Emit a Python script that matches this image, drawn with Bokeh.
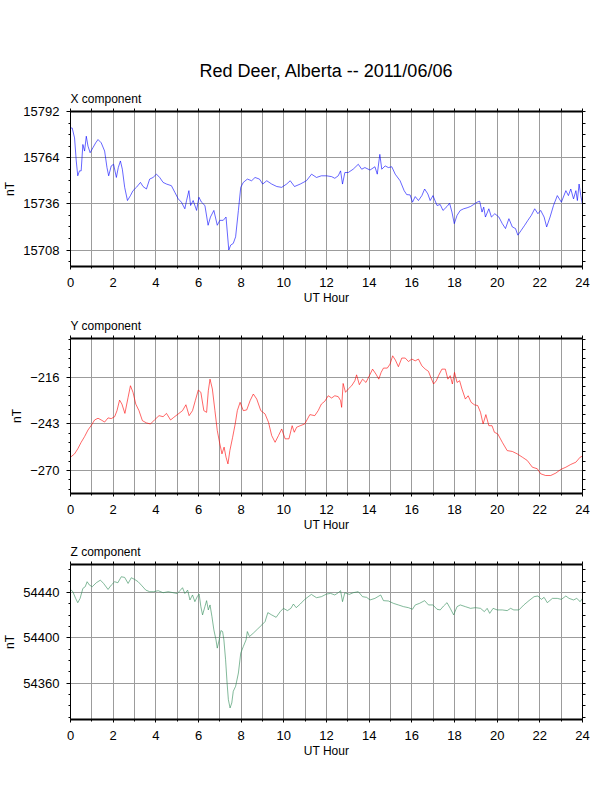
import numpy as np
from bokeh.plotting import figure
from bokeh.models import LinearAxis, SingleIntervalTicker, FixedTicker, Range1d, Title, Grid, ColumnDataSource
from bokeh.layouts import column
from bokeh.embed import file_html
from bokeh.resources import INLINE

FONT = "Liberation Sans"
MAIN_TITLE = "Red Deer, Alberta -- 2011/06/06"
X_LABEL = "UT Hour"
Y_LABEL = "nT"

# ---- X component (nT) ----
x_hours = [0.00, 0.08, 0.19, 0.27, 0.34, 0.42, 0.50, 0.58, 0.66, 0.74, 0.82, 0.92, 1.05, 1.18, 1.29,
           1.44, 1.60, 1.71, 1.79, 1.91, 2.02, 2.15, 2.24, 2.34, 2.43, 2.54, 2.67, 2.81, 2.93, 3.09,
           3.28, 3.40, 3.56, 3.71, 3.87, 4.03, 4.18, 4.34, 4.50, 4.73, 4.89, 5.05, 5.20, 5.36, 5.44,
           5.55, 5.63, 5.75, 5.91, 6.02, 6.14, 6.30, 6.45, 6.56, 6.72, 6.88, 7.00, 7.16, 7.29, 7.42,
           7.51, 7.63, 7.74, 7.87, 7.98, 8.10, 8.29, 8.49, 8.65, 8.86, 9.01, 9.20, 9.43, 9.67, 9.90,
           10.13, 10.30, 10.50, 10.77, 11.06, 11.30, 11.53, 11.76, 12.00, 12.24, 12.39, 12.55, 12.66,
           12.75, 12.86, 13.02, 13.25, 13.49, 13.65, 13.80, 14.04, 14.27, 14.38, 14.50, 14.59, 14.75,
           14.90, 15.06, 15.22, 15.45, 15.64, 15.76, 15.92, 16.03, 16.16, 16.31, 16.47, 16.60, 16.75,
           16.86, 16.99, 17.18, 17.33, 17.46, 17.65, 17.77, 17.88, 17.99, 18.12, 18.27, 18.43, 18.59,
           18.75, 18.90, 19.06, 19.18, 19.29, 19.37, 19.45, 19.61, 19.73, 19.89, 20.08, 20.24, 20.39,
           20.55, 20.71, 20.86, 20.97, 21.13, 21.29, 21.44, 21.60, 21.76, 21.91, 22.04, 22.20, 22.32,
           22.48, 22.64, 22.82, 23.01, 23.22, 23.34, 23.45, 23.58, 23.69, 23.76, 23.84, 23.92, 24.00]
x_values = [15782, 15782, 15776, 15762, 15753, 15756, 15756, 15772, 15768, 15777, 15771, 15767, 15770, 15773, 15775,
            15773, 15768, 15758, 15753, 15759, 15760, 15752, 15758, 15762, 15757, 15746, 15738, 15741, 15744, 15746,
            15749, 15746.5, 15745, 15751, 15752, 15754, 15752, 15749, 15748, 15747, 15743, 15739, 15737, 15733, 15738,
            15744, 15735, 15738, 15732, 15740, 15737, 15735, 15723, 15728, 15732, 15723, 15726, 15726, 15728, 15708,
            15711, 15712, 15716, 15732, 15746, 15749, 15751, 15750, 15752, 15751, 15748, 15750, 15748, 15746.5, 15746,
            15748, 15750, 15746.5, 15748, 15750, 15754, 15752, 15753, 15753, 15752.5, 15751.5, 15753, 15756,
            15748, 15755, 15755, 15757, 15760, 15757, 15758, 15756.5, 15758.5, 15754, 15766, 15757, 15759,
            15758, 15758.5, 15754, 15750, 15744, 15741.6, 15741.4, 15737, 15740.4, 15738, 15741, 15745, 15742,
            15738, 15741, 15735, 15735.6, 15732, 15734.4, 15736.4, 15731, 15724, 15729, 15732, 15733, 15733.6,
            15734.4, 15735.6, 15737, 15737.6, 15731, 15734, 15728, 15733, 15728, 15730, 15728, 15724, 15721,
            15727, 15722, 15721, 15717, 15720, 15723, 15726, 15729, 15733, 15730, 15732, 15728, 15722,
            15728, 15735, 15741, 15737, 15744, 15741, 15745, 15739, 15744, 15738, 15748, 15741, 15735.6]

# ---- Y component (nT) ----
y_hours = [0.00, 0.19, 0.34, 0.50, 0.66, 0.82, 0.97, 1.13, 1.29, 1.44, 1.60, 1.76, 1.91, 2.07, 2.18,
           2.30, 2.41, 2.55, 2.70, 2.81, 2.93, 3.06, 3.21, 3.37, 3.56, 3.75, 3.95, 4.15, 4.34, 4.50,
           4.69, 4.84, 5.05, 5.25, 5.41, 5.56, 5.72, 5.85, 5.99, 6.11, 6.25, 6.38, 6.46, 6.54, 6.65,
           6.77, 6.88, 7.00, 7.10, 7.20, 7.29, 7.38, 7.47, 7.60, 7.72, 7.82, 7.95, 8.10, 8.26, 8.42,
           8.57, 8.73, 8.92, 9.12, 9.28, 9.43, 9.59, 9.75, 9.90, 10.06, 10.24, 10.39, 10.49, 10.60,
           10.77, 10.98, 11.22, 11.45, 11.61, 11.76, 11.92, 12.08, 12.24, 12.39, 12.55, 12.66, 12.71,
           12.78, 12.89, 13.02, 13.18, 13.33, 13.41, 13.54, 13.69, 13.85, 14.01, 14.16, 14.32, 14.45,
           14.56, 14.67, 14.85, 14.98, 15.10, 15.23, 15.37, 15.53, 15.69, 15.84, 16.00, 16.16, 16.31,
           16.47, 16.63, 16.78, 16.89, 17.02, 17.15, 17.25, 17.41, 17.57, 17.69, 17.80, 17.90, 18.00,
           18.12, 18.24, 18.35, 18.51, 18.64, 18.78, 18.93, 19.09, 19.22, 19.34, 19.47, 19.61, 19.76,
           19.87, 20.03, 20.24, 20.47, 20.71, 20.94, 21.18, 21.41, 21.65, 21.88, 22.04, 22.27, 22.51,
           22.75, 22.98, 23.22, 23.45, 23.69, 23.89, 24.00]
y_values = [-262.3, -260.4, -257.5, -253.7, -250.4, -246.6, -244.0, -240.8, -239.8, -240.8, -242.0, -239.6, -240.0, -238.9, -235.4,
            -229.3, -231.6, -237.0, -227.7, -221.0, -224.8, -231.6, -235.4, -241.2, -242.5, -243.1, -240.6, -238.3, -238.9, -237.0,
            -240.8, -239.3, -237.3, -235.4, -232.0, -238.3, -235.4, -229.6, -223.5, -224.8, -235.4, -236.4, -223.9, -217.2, -222.9,
            -235.4, -246.9, -254.6, -260.4, -256.5, -262.3, -266.2, -258.5, -250.8, -243.1, -235.4, -230.6, -235.4, -235.0, -229.6,
            -225.8, -228.7, -235.4, -237.3, -242.1, -249.8, -253.7, -249.8, -246.0, -251.7, -251.7, -244.1, -247.9, -245.0,
            -244.1, -243.1, -237.7, -238.3, -235.4, -231.6, -230.0, -226.8, -228.1, -226.8, -227.3, -229.6, -233.5,
            -219.7, -224.8, -222.9, -221.0, -218.1, -214.7, -220.4, -217.2, -219.1, -215.2, -211.4, -214.3, -217.2,
            -213.3, -210.8, -210.8, -208.5, -203.7, -206.2, -210.0, -205.0, -205.0, -207.0, -205.6, -206.6, -205.6,
            -209.5, -211.4, -212.7, -216.2, -220.0, -218.1, -215.2, -211.4, -211.4, -217.2, -215.2, -220.0, -213.3,
            -219.1, -218.1, -222.9, -228.7, -226.8, -230.6, -232.0, -232.5, -236.4, -243.1, -237.7, -244.1, -244.1,
            -247.9, -248.9, -253.7, -258.5, -259.0, -260.4, -262.3, -264.2, -268.1, -269.0, -271.9, -272.9, -272.9,
            -271.5, -269.4, -268.1, -266.5, -265.2, -262.3, -261.7]

# ---- Z component (nT) ----
z_hours = [0.00, 0.11, 0.24, 0.34, 0.45, 0.58, 0.69, 0.78, 0.89, 1.02, 1.21, 1.40, 1.55, 1.76, 1.91,
           2.07, 2.22, 2.38, 2.54, 2.70, 2.85, 3.01, 3.17, 3.32, 3.53, 3.71, 3.90, 4.11, 4.34, 4.58,
           4.81, 5.00, 5.13, 5.25, 5.36, 5.49, 5.60, 5.72, 5.83, 5.94, 6.03, 6.11, 6.19, 6.30, 6.38,
           6.46, 6.54, 6.63, 6.72, 6.82, 6.88, 6.97, 7.05, 7.13, 7.19, 7.27, 7.34, 7.40, 7.48, 7.56,
           7.63, 7.74, 7.87, 7.98, 8.10, 8.23, 8.29, 8.39, 8.57, 8.76, 8.97, 9.12, 9.25, 9.43, 9.64,
           9.83, 9.98, 10.17, 10.33, 10.45, 10.58, 10.77, 10.98, 11.29, 11.53, 11.76, 12.00, 12.19,
           12.39, 12.55, 12.66, 12.75, 12.86, 13.07, 13.25, 13.49, 13.69, 13.88, 14.04, 14.27, 14.54,
           14.67, 14.90, 15.14, 15.37, 15.61, 15.84, 16.03, 16.16, 16.36, 16.60, 16.78, 16.99, 17.18,
           17.33, 17.49, 17.65, 17.80, 17.96, 18.12, 18.27, 18.51, 18.75, 18.98, 19.22, 19.40, 19.53,
           19.65, 19.81, 20.00, 20.24, 20.47, 20.63, 20.78, 21.02, 21.25, 21.49, 21.73, 21.91, 22.07,
           22.20, 22.35, 22.59, 22.82, 23.01, 23.22, 23.37, 23.58, 23.73, 23.89, 24.00]
z_values = [54442.6, 54440.6, 54434.7, 54430.9, 54434.7, 54443.5, 54445.0, 54449.4, 54446.4, 54445.0, 54448.5, 54450.8, 54447.9, 54442.6, 54446.4,
            54449.4, 54448.5, 54453.8, 54453.2, 54447.9, 54452.9, 54451.4, 54449.4, 54446.4, 54442.0, 54440.6, 54440.6, 54441.5, 54439.7, 54440.6,
            54439.7, 54439.0, 54441.5, 54444.1, 54439.0, 54442.0, 54433.3, 54437.7, 54431.8, 54436.2, 54438.5, 54427.4, 54420.1, 54427.4, 54432.7,
            54424.5, 54428.9, 54418.6, 54406.9, 54398.1, 54390.8, 54398.1, 54406.3, 54405.4, 54398.1, 54380.5, 54360.0, 54345.3, 54338.0, 54342.4,
            54352.7, 54357.1, 54368.8, 54386.4, 54392.2, 54398.1, 54405.4, 54401.0, 54404.0, 54407.5, 54411.3, 54414.2, 54422.1, 54420.1, 54418.0,
            54423.0, 54425.9, 54423.9, 54425.9, 54429.7, 54426.5, 54429.7, 54433.8, 54438.2, 54435.3, 54436.2, 54438.5, 54439.1,
            54437.7, 54439.7, 54441.5, 54431.8, 54439.7, 54438.2, 54439.7, 54440.6, 54436.2, 54435.6, 54433.3, 54434.7, 54437.7,
            54432.7, 54432.4, 54430.3, 54428.9, 54427.4, 54426.5, 54425.1, 54428.9, 54430.3, 54432.7, 54428.9, 54428.9, 54425.1,
            54424.5, 54428.0, 54430.9, 54425.9, 54420.1, 54427.4, 54428.9, 54427.4, 54425.9, 54426.5, 54425.9, 54423.0, 54425.9,
            54421.5, 54425.9, 54424.5, 54424.5, 54423.9, 54425.9, 54424.5, 54424.5, 54428.9, 54432.7, 54436.2, 54436.8, 54433.8,
            54435.6, 54430.9, 54434.7, 54434.7, 54433.8, 54436.8, 54434.7, 54433.3, 54434.7, 54431.8, 54434.7]

GRID = "#9c9c9c"


def make_panel(hours, values, color, ylo, yhi, yint, yminor, comp, top_border, bottom_border, main=None):
    p = figure(frame_width=512, frame_height=155,
               x_range=Range1d(0, 24), y_range=Range1d(ylo, yhi),
               x_axis_type=None, y_axis_type=None,
               output_backend="svg", toolbar_location=None,
               min_border_left=66, min_border_right=18,
               min_border_top=top_border, min_border_bottom=bottom_border,
               background_fill_color="white", border_fill_color="white")
    p.outline_line_color = None

    # grids
    p.add_layout(Grid(dimension=0, ticker=SingleIntervalTicker(interval=1, num_minor_ticks=0),
                      grid_line_color=GRID, grid_line_width=1))
    p.add_layout(Grid(dimension=1, ticker=SingleIntervalTicker(interval=yint, num_minor_ticks=0),
                      grid_line_color=GRID, grid_line_width=1))

    src = ColumnDataSource(data=dict(t=hours, v=values))
    p.line("t", "v", source=src, line_color=color, line_width=0.75, line_alpha=0.8)

    # bottom axis
    xb = LinearAxis(ticker=SingleIntervalTicker(interval=2, num_minor_ticks=2), axis_label=X_LABEL)
    xb.major_tick_in = 0
    xb.major_tick_out = 3
    xb.minor_tick_in = 0
    xb.minor_tick_out = 2
    xb.axis_line_width = 2
    xb.major_label_standoff = 8
    xb.axis_label_standoff = 1
    xb.major_label_text_font = FONT
    xb.major_label_text_font_size = "13px"
    xb.major_label_text_color = "black"
    xb.axis_label_text_font = FONT
    xb.axis_label_text_font_size = "12px"
    xb.axis_label_text_font_style = "normal"
    xb.axis_label_text_color = "black"
    p.add_layout(xb, "below")

    # left axis
    yl = LinearAxis(ticker=SingleIntervalTicker(interval=yint, num_minor_ticks=yminor), axis_label=Y_LABEL)
    yl.major_tick_in = 0
    yl.major_tick_out = 4
    yl.minor_tick_in = 0
    yl.minor_tick_out = 2
    yl.axis_line_width = 1
    yl.major_label_standoff = 7
    yl.axis_label_standoff = 3
    yl.major_label_text_font = FONT
    yl.major_label_text_font_size = "13px"
    yl.major_label_text_color = "black"
    yl.axis_label_text_font = FONT
    yl.axis_label_text_font_size = "12px"
    yl.axis_label_text_font_style = "normal"
    yl.axis_label_text_color = "black"
    p.add_layout(yl, "left")

    # right axis: tick marks only (no labels), at every minor step of the y ticker
    step = yint / yminor
    right_ticks = list(np.arange(np.ceil(ylo / step) * step, yhi + 1e-9, step))
    yr = LinearAxis(ticker=FixedTicker(ticks=[], minor_ticks=right_ticks))
    yr.minor_tick_in = 0
    yr.minor_tick_out = 3
    yr.major_tick_out = 0
    yr.axis_line_width = 1
    p.add_layout(yr, "right")

    # top axis: tick marks only (no labels), every hour
    top_ticks = list(np.arange(0, 25, 1.0))
    xt = LinearAxis(ticker=FixedTicker(ticks=[], minor_ticks=top_ticks))
    xt.minor_tick_in = 0
    xt.minor_tick_out = 3
    xt.major_tick_out = 0
    xt.major_label_standoff = 0
    xt.axis_line_width = 2
    p.add_layout(xt, "above")

    p.add_layout(Title(text=comp, align="left", text_font=FONT, text_font_size="12px",
                       text_font_style="normal", text_color="black", standoff=6), "above")
    if main:
        p.add_layout(Title(text=main, align="center", text_font=FONT, text_font_size="18px",
                           text_font_style="normal", text_color="black", standoff=12), "above")
    return p


p1 = make_panel(x_hours, x_values, "#0000ff", 15698, 15792, 28, 4, "X component", 111, 44, main=MAIN_TITLE)
p2 = make_panel(y_hours, y_values, "#ff0000", -283.3, -193.7, 27, 5, "Y component", 28, 44)
p3 = make_panel(z_hours, z_values, "#2e8b57", 54327.8, 54464.6, 40, 4, "Z component", 27, 44)

layout = column(p1, p2, p3, spacing=0)
open("out.html", "w").write(file_html(layout, INLINE))
